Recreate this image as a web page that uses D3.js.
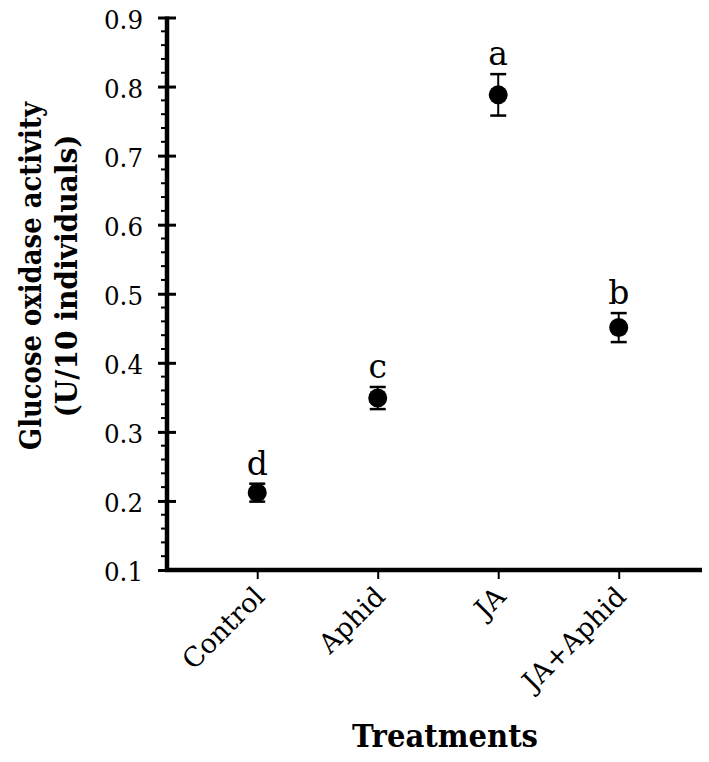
<!DOCTYPE html>
<html>
<head>
<meta charset="utf-8">
<script src="https://cdn.jsdelivr.net/npm/d3@7"></script>
<style>
  html, body { margin: 0; padding: 0; background: #fff; }
  svg { display: block; }
  text { font-family: "DejaVu Serif", serif; fill: #000; }
</style>
</head>
<body>
<svg id="chart" width="709" height="762"></svg>
<script>
// ---- data ----
const categories = ["Control", "Aphid", "JA", "JA+Aphid"];
const means = [0.212, 0.349, 0.788, 0.451];
const errors = [0.013, 0.016, 0.030, 0.021];
const letters = ["d", "c", "a", "b"];
const yTicks = [0.1, 0.2, 0.3, 0.4, 0.5, 0.6, 0.7, 0.8, 0.9];
const yTitle = ["Glucose oxidase activity", "(U/10 individuals)"];
const xTitle = "Treatments";

const svg = d3.select("#chart");
const mLeft = 167, mRight = 702, mTop = 17.5, mBottom = 570;

const x = d3.scalePoint().domain(categories).range([mLeft, mRight]).padding(0.72).align(0.52);
const y = d3.scaleLinear().domain([0.1, 0.9]).range([mBottom, mTop]);

// minor ticks
const minor = d3.range(0.1, 0.9001, 0.02).filter(v => Math.abs(v * 10 - Math.round(v * 10)) > 1e-6);
svg.append("g").selectAll("line").data(minor).join("line")
  .attr("x1", mLeft - 6).attr("x2", mLeft)
  .attr("y1", d => y(d)).attr("y2", d => y(d))
  .attr("stroke", "#000").attr("stroke-width", 2);

// y axis
const yAxis = svg.append("g").attr("transform", `translate(${mLeft},0)`)
  .call(d3.axisLeft(y).tickValues(yTicks).tickFormat(d3.format(".1f")).tickSize(9).tickPadding(14));
yAxis.select(".domain").remove();
yAxis.selectAll(".tick line").attr("x2", -9).attr("x1", 9).attr("stroke-width", 3);
yAxis.selectAll(".tick text").attr("font-size", 26).attr("font-family", "DejaVu Serif")
  .attr("dy", "0.42em").attr("x", -24).attr("textLength", 39).attr("lengthAdjust", "spacingAndGlyphs");
svg.append("line").attr("x1", mLeft).attr("x2", mLeft).attr("y1", mTop - 1).attr("y2", mBottom + 2)
  .attr("stroke", "#000").attr("stroke-width", 4.5);

// x axis
const xAxis = svg.append("g").attr("transform", `translate(0,${mBottom})`)
  .call(d3.axisBottom(x).tickSize(9).tickPadding(6));
xAxis.select(".domain").remove();
xAxis.selectAll(".tick line").attr("stroke-width", 2);
xAxis.selectAll(".tick text")
  .attr("font-size", 27).attr("font-family", "DejaVu Serif")
  .attr("text-anchor", "end")
  .attr("transform", "rotate(-45)")
  .attr("dx", -14).attr("dy", 11);
svg.append("line").attr("x1", mLeft - 2).attr("x2", mRight).attr("y1", mBottom).attr("y2", mBottom)
  .attr("stroke", "#000").attr("stroke-width", 4.5);

// error bars
const pts = categories.map((c, i) => ({c, m: means[i], e: errors[i], l: letters[i]}));
const g = svg.append("g");
g.selectAll("line.v").data(pts).join("line").attr("class", "v")
  .attr("x1", d => x(d.c)).attr("x2", d => x(d.c))
  .attr("y1", d => y(d.m - d.e)).attr("y2", d => y(d.m + d.e))
  .attr("stroke", "#000").attr("stroke-width", 2);
["lo", "hi"].forEach(k => {
  g.selectAll("line." + k).data(pts).join("line").attr("class", k)
    .attr("x1", d => x(d.c) - 8).attr("x2", d => x(d.c) + 8)
    .attr("y1", d => y(k === "lo" ? d.m - d.e : d.m + d.e))
    .attr("y2", d => y(k === "lo" ? d.m - d.e : d.m + d.e))
    .attr("stroke", "#000").attr("stroke-width", 2.5);
});
g.selectAll("circle").data(pts).join("circle")
  .attr("cx", d => x(d.c)).attr("cy", d => y(d.m)).attr("r", 9.5).attr("fill", "#000");
g.selectAll("text.letter").data(pts).join("text").attr("class", "letter")
  .attr("x", d => x(d.c)).attr("y", d => y(d.m + d.e) - 9)
  .attr("text-anchor", "middle").attr("font-size", 33)
  .text(d => d.l);

// titles
svg.append("text").attr("x", 445).attr("y", 747).attr("text-anchor", "middle")
  .attr("font-size", 31).attr("font-weight", "bold")
  .attr("textLength", 186).attr("lengthAdjust", "spacingAndGlyphs").text(xTitle);
const ytLens = [348, 283];
yTitle.forEach((t, i) => {
  svg.append("text").attr("transform", `translate(${41 + i * 36},276) rotate(-90)`)
    .attr("text-anchor", "middle").attr("font-size", 30).attr("font-weight", "bold")
    .attr("textLength", ytLens[i]).attr("lengthAdjust", "spacingAndGlyphs")
    .text(t);
});
</script>
</body>
</html>
